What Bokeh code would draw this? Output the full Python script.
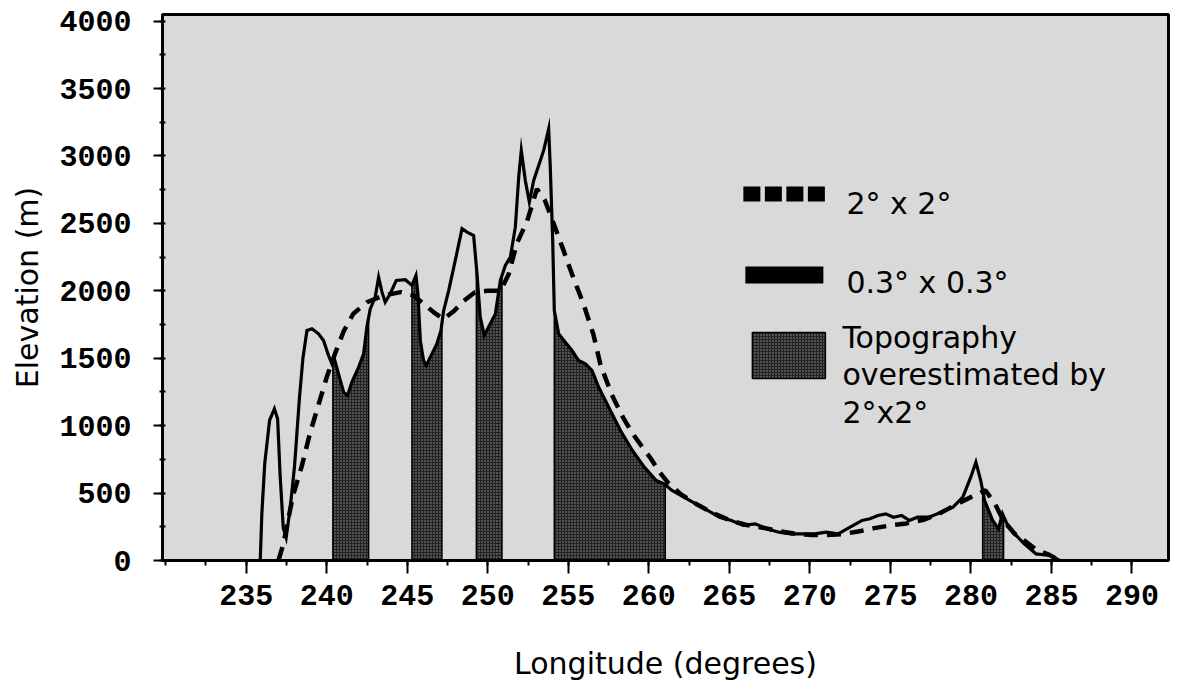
import numpy as np
from bokeh.plotting import figure
from bokeh.models import Range1d, FixedTicker, BoxAnnotation, Label
from bokeh.embed import file_html
from bokeh.resources import INLINE

# ---------------- data ----------------
solid_lon = [235.87, 235.97, 236.15, 236.45, 236.75, 236.95, 237.10, 237.30, 237.48, 237.73,
             238.00, 238.30, 238.52, 238.77, 239.08, 239.49, 239.80, 240.11, 240.32, 240.47,
             240.73, 241.05, 241.29, 241.56, 241.98, 242.29, 242.49, 242.70, 243.01, 243.22,
             243.43, 243.63, 243.94, 244.32, 244.88, 245.29, 245.54, 245.66, 245.81, 246.01,
             246.18, 246.43, 246.84, 247.09, 247.26, 247.57, 247.98, 248.40, 248.71, 249.12,
             249.33, 249.53, 249.78, 250.05, 250.47, 250.78, 251.09, 251.40, 251.71, 251.92,
             252.08, 252.33, 252.58, 252.85, 253.16, 253.47, 253.78, 253.88, 254.03, 254.13,
             254.40, 254.81, 255.23, 255.64, 256.06, 256.47, 256.88, 257.51, 258.24, 258.98,
             259.72, 260.46, 260.95, 261.44, 262.18, 262.91, 263.65, 264.39, 265.13, 265.86,
             266.60, 267.34, 268.07, 268.81, 269.55, 270.29, 271.02, 271.76, 272.50, 273.24,
             273.73, 274.22, 274.71, 275.20, 275.69, 276.18, 276.68, 277.41, 278.15, 278.89,
             279.50, 279.99, 280.31, 280.61, 280.85, 281.35, 281.71, 281.96, 282.33, 282.82,
             283.31, 284.05, 284.91, 285.52]
solid_elev = [0, 350, 720, 1040, 1125, 1050, 640, 240, 170, 390,
              700, 1200, 1500, 1706, 1718, 1681, 1632, 1520, 1459, 1496,
              1384, 1248, 1224, 1323, 1434, 1533, 1731, 1866, 1953, 2101,
              1990, 1916, 1978, 2077, 2082, 2040, 2114, 1978, 1632, 1483,
              1446, 1508, 1607, 1706, 1854, 2002, 2225, 2460, 2435, 2410,
              2126, 1805, 1669, 1731, 1829, 2077, 2188, 2250, 2472, 2843,
              3041, 2818, 2658, 2818, 2930, 3041, 3201, 2917, 2373, 1854,
              1681, 1619, 1557, 1483, 1459, 1409, 1286, 1137, 964, 816,
              692, 593, 569, 519, 470, 420, 371, 321, 297, 260,
              272, 235, 210, 198, 198, 198, 210, 198, 247, 297,
              309, 334, 346, 321, 334, 297, 321, 321, 358, 396,
              470, 618, 729, 593, 445, 297, 235, 346, 247, 185,
              124, 49, 37, 0]

dashed_lon = [237.0, 237.3, 237.9, 238.45, 238.95, 239.45, 240.0, 240.5, 241.05, 241.65,
              242.5, 243.5, 244.6, 245.4, 246.0, 246.65, 247.25, 247.9, 248.5, 249.2,
              249.95, 250.8, 251.3, 251.8, 252.45, 253.05, 253.55, 254.1, 254.7, 255.3,
              255.95, 256.55, 257.0, 257.7, 258.4, 259.0, 259.6, 260.1, 260.7, 261.2,
              262.0, 263.0, 264.0, 265.0, 266.0, 267.0, 268.0, 269.0, 270.0, 271.0,
              272.0, 273.0, 274.0, 275.0, 276.0, 277.0, 278.0, 279.0, 280.0, 280.9,
              281.5, 282.0, 282.7, 283.3, 284.0, 284.9, 285.5]
dashed_elev = [0, 120, 480, 700, 940, 1140, 1360, 1530, 1700, 1830,
               1915, 1965, 1990, 1965, 1905, 1840, 1790, 1850, 1925, 1990,
               2000, 2000, 2125, 2350, 2520, 2755, 2670, 2495, 2300, 2100,
               1900, 1680, 1450, 1230, 1060, 940, 840, 760, 650, 575,
               490, 415, 350, 300, 265, 245, 220, 200, 190, 188,
               195, 215, 240, 260, 275, 300, 345, 410, 470, 520,
               420, 300, 200, 150, 85, 40, 0]

# longitude bands where the 2x2 topography is higher than the 0.3x0.3 one
shade_start = [240.38, 245.29, 249.29, 254.13, 280.73]
shade_end = [242.60, 247.15, 250.88, 261.02, 282.03]

x_ticks = [235, 240, 245, 250, 255, 260, 265, 270, 275, 280, 285, 290]
y_ticks = [0, 500, 1000, 1500, 2000, 2500, 3000, 3500, 4000]
legend_labels = ["2\u00b0 x 2\u00b0", "0.3\u00b0 x 0.3\u00b0",
                 "Topography", "overestimated by", "2\u00b0x2\u00b0"]

# ---------------- figure ----------------
W, H = 1182, 686
p = figure(width=W, height=H,
           x_range=Range1d(229.8, 292.27), y_range=Range1d(0, 4049),
           output_backend="svg", toolbar_location=None,
           min_border_left=162, min_border_right=14,
           min_border_top=14, min_border_bottom=126)

p.background_fill_color = "#d9d9d9"
p.border_fill_color = "white"
p.outline_line_color = "black"
p.outline_line_width = 3
p.xgrid.visible = False
p.ygrid.visible = False

p.xaxis.ticker = FixedTicker(ticks=x_ticks,
                             minor_ticks=[230 + 2.5 * i for i in range(26)])
p.yaxis.ticker = FixedTicker(ticks=y_ticks,
                             minor_ticks=[250 * i for i in range(17)])

for ax in (p.xaxis[0], p.yaxis[0]):
    ax.axis_line_color = "black"
    ax.axis_line_width = 3
    ax.major_tick_line_color = "black"
    ax.major_tick_line_width = 2
    ax.minor_tick_line_color = "black"
    ax.minor_tick_line_width = 2
    ax.major_label_text_font = "Liberation Mono"
    ax.major_label_text_font_style = "bold"
    ax.major_label_text_color = "black"
    ax.axis_label_text_font = "DejaVu Sans"
    ax.axis_label_text_font_style = "normal"
    ax.axis_label_text_font_size = "30px"
    ax.axis_label_text_color = "black"

p.xaxis.major_label_text_font_size = "30px"
p.yaxis.major_label_text_font_size = "30px"
p.xaxis.major_tick_in = 0
p.xaxis.major_tick_out = 13
p.xaxis.minor_tick_in = 0
p.xaxis.minor_tick_out = 5
p.yaxis.major_tick_in = 0
p.yaxis.major_tick_out = 9
p.yaxis.minor_tick_in = 3
p.yaxis.minor_tick_out = 3
p.xaxis.major_label_standoff = 11
p.yaxis.major_label_standoff = 22
p.xaxis.axis_label = "Longitude (degrees)"
p.yaxis.axis_label = "Elevation (m)"
p.xaxis.axis_label_standoff = 38
p.yaxis.axis_label_standoff = 11

# ---------------- shaded bands ----------------
slon = np.array(solid_lon, dtype=float)
selev = np.array(solid_elev, dtype=float)
px, py = [], []
for a, b in zip(shade_start, shade_end):
    inside = (slon > a) & (slon < b)
    xs = [a] + list(slon[inside]) + [b]
    ys = list(np.interp(xs, slon, selev))
    px.append(xs + [b, a])
    py.append(ys + [0, 0])

SHADE = dict(fill_color="#222222", hatch_pattern="dot", hatch_color="#9a9a9a",
             hatch_scale=3.0, hatch_weight=0.9)

p.patches(px, py, line_color="black", line_width=1.5, **SHADE)

# ---------------- lines ----------------
p.line(solid_lon, solid_elev, line_color="black", line_width=3.2,
       line_join="miter")
p.line(dashed_lon, dashed_elev, line_color="black", line_width=4.5,
       line_dash="14 9")

# ---------------- legend (positioned from the page pixel layout) ----------------
def lon_at(px_):
    return 235 + (px_ - 246) / 16.1


def elev_at(py_):
    return (560 - py_) / 0.13483


for i in range(4):
    x0 = 743 + i * 21.5
    p.add_layout(BoxAnnotation(left=lon_at(x0), right=lon_at(x0 + 17),
                               top=elev_at(186), bottom=elev_at(201),
                               fill_color="black", fill_alpha=1,
                               line_color=None))
p.add_layout(BoxAnnotation(left=lon_at(745), right=lon_at(823),
                           top=elev_at(266), bottom=elev_at(283),
                           fill_color="black", fill_alpha=1, line_color=None))
p.add_layout(BoxAnnotation(left=lon_at(752), right=lon_at(825),
                           top=elev_at(332), bottom=elev_at(378),
                           fill_alpha=1, line_color="black", line_width=1.5,
                           line_alpha=1, **SHADE))

label_pos = [(846, 203), (846, 282), (842, 337), (842, 374), (842, 412)]
for txt, (lx, ly) in zip(legend_labels, label_pos):
    p.add_layout(Label(x=lon_at(lx), y=elev_at(ly), text=txt,
                       text_font="DejaVu Sans", text_font_size="30px",
                       text_color="black", text_baseline="alphabetic",
                       text_align="left"))

open("out.html", "w").write(file_html(p, INLINE))
